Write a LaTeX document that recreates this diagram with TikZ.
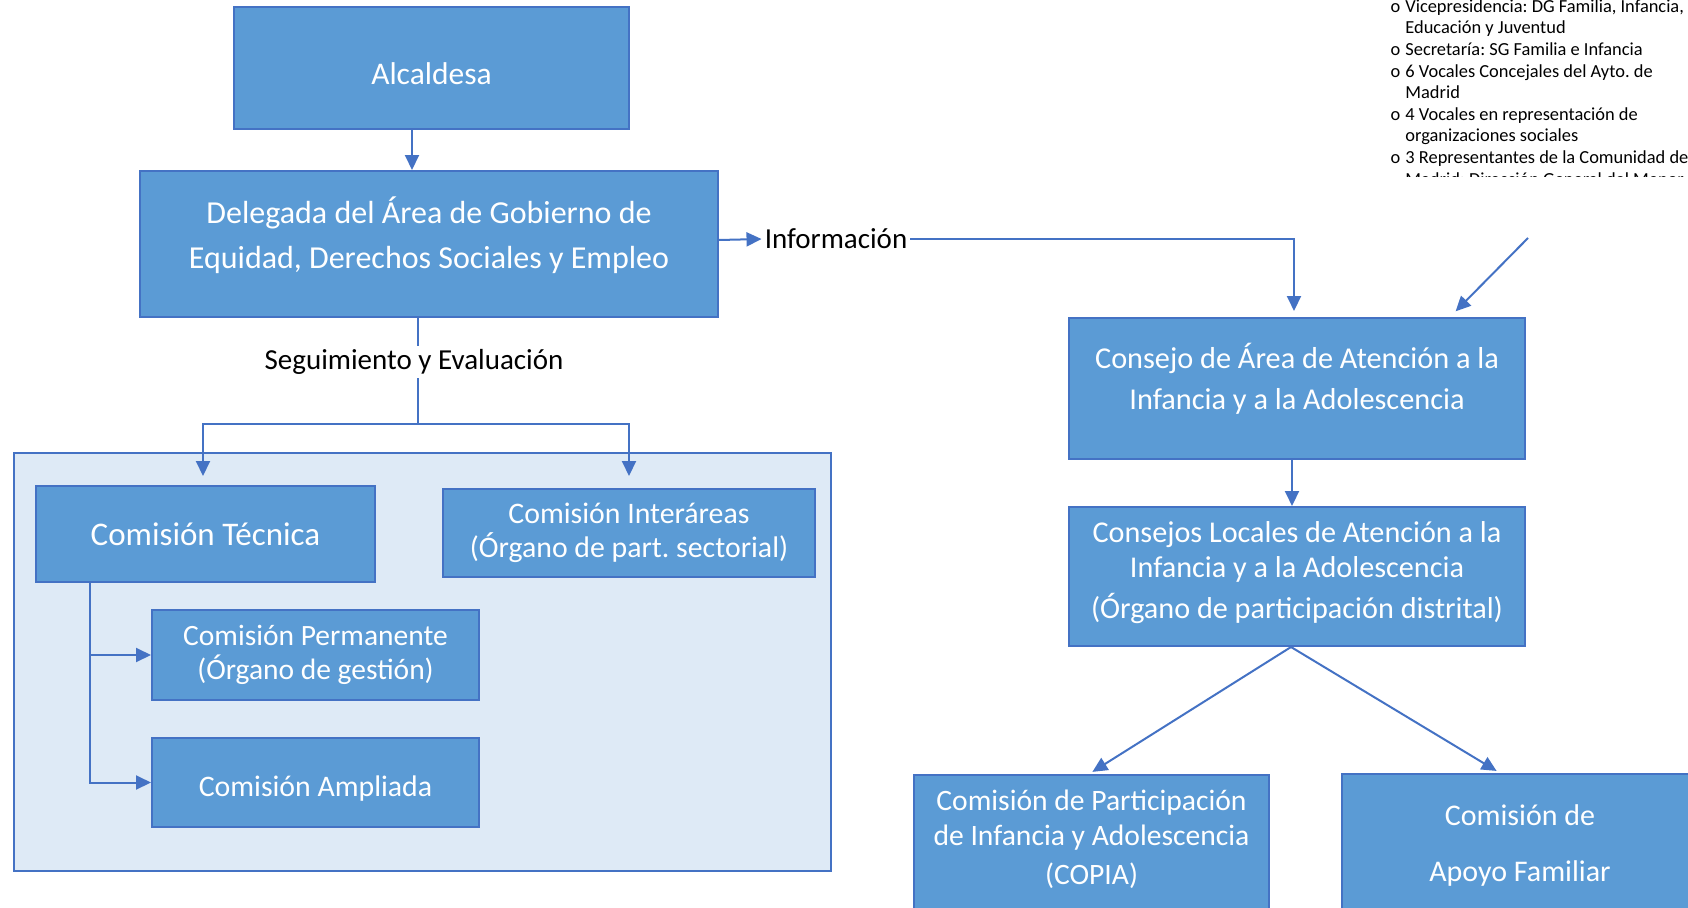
\documentclass[tikz,border=0pt]{standalone}
\usepackage{fontspec}
\setmainfont{Carlito}
\usepackage{tikz}
\usetikzlibrary{arrows.meta,positioning}
\definecolor{boxfill}{HTML}{5B9BD5}
\definecolor{boxline}{HTML}{4472C4}
\definecolor{panelfill}{HTML}{DEEAF6}
\newcommand{\fsz}[2]{\fontsize{#1}{#2}\selectfont}
\frenchspacing
\tikzset{
    organ/.style={
           rectangle,
           fill=boxfill,
           draw=boxline, line width=2pt,
           text=white,
           align=center,
           inner sep=2pt
           },
    orgtext/.style={
           text=white,
           align=center,
           inner sep=0pt
           },
    tag/.style={
           fill=white,
           inner sep=3pt,
           font=\fsz{29}{34}
           },
    link/.style={
           draw=boxline, line width=2pt,
           -{Triangle[length=15pt,width=14pt]}
           },
}

\begin{document}
\begin{tikzpicture}[x=1pt,y=-1pt]
\clip (0,0) rectangle (1688,907);

% panel behind the commissions
\draw[fill=panelfill, draw=boxline, line width=2pt] (14,453) rectangle (831,871);

\node[organ, minimum width=395pt, minimum height=121pt] (ALC) at (431.5,68) {};
\node[orgtext, font=\fsz{31.5}{38}] (ALCtxt) at (431.5,73.5) {Alcaldesa};

\node[organ, minimum width=578pt, minimum height=146pt] (DELEG) at (429,244) {};
\node[orgtext, font=\fsz{32}{45}] (DELEGtxt) at (429,235)
    {Delegada del Área de Gobierno de\\
     Equidad, Derechos Sociales y Empleo};

\node[tag, fill=none] (INFO) at (836,239) {Información};
\node[tag] (SEG) at (414,362) {Seguimiento y Evaluación};

\node[organ, minimum width=339pt, minimum height=96pt, font=\fsz{33}{40}] (TEC) at (205.5,534)
    {Comisión Técnica};

\node[organ, minimum width=372pt, minimum height=88pt, font=\fsz{29.8}{34.5}] (INTER) at (629,533)
    {Comisión Interáreas\\
     (Órgano de part. sectorial)};

\node[organ, minimum width=327pt, minimum height=90pt, font=\fsz{29.5}{34.5}] (PERM) at (315.5,655)
    {Comisión Permanente\\
     (Órgano de gestión)};

\node[organ, minimum width=327pt, minimum height=89pt,
      below of=PERM, node distance=127.5pt, anchor=center] (AMPL) {};
\node[orgtext, font=\fsz{29.8}{36}] (AMPLtxt) at ([yshift=-6.5pt]AMPL) {Comisión Ampliada};

\node[organ, minimum width=456pt, minimum height=141pt] (AREA) at (1297,388.5) {};
\node[orgtext, font=\fsz{30.3}{41}] (AREAtxt) at (1297,378.5)
    {Consejo de Área de Atención a la\\
     Infancia y a la Adolescencia};

\node[organ, minimum width=456pt, minimum height=139pt,
      below of=AREA, node distance=188pt, anchor=center] (LOCAL) {};
\node[orgtext, font=\fsz{30.2}{34.5}] (LOCALtxt) at ([yshift=4pt]LOCAL)
    {Consejos Locales de Atención a la\\
     Infancia y a la Adolescencia\\[6.5pt]
     (Órgano de participación distrital)};

% bottom boxes run off the page
\node[organ, minimum width=355pt, minimum height=140pt] (COPIA) at (1091.5,845) {};
\node[orgtext, font=\fsz{29.6}{34.5}] (COPIAtxt) at (1091.5,839.5)
    {Comisión de Participación\\
     de Infancia y Adolescencia\\[4.5pt]
     (COPIA)};

\node[organ, minimum width=356pt, minimum height=142pt, font=\fsz{30}{56}] (APOYO) at (1520,845)
    {Comisión de\\
     Apoyo Familiar};

% member list, cut at the top and bottom
\begin{scope}
\clip (1370,0) rectangle (1688,176);
\node[anchor=north west, inner sep=0pt, font=\fsz{18.4}{21.6}] (LIST) at (1390.5,-3)
    {\begin{tabular}{@{}l@{\hspace{5pt}}l@{}}
      o & Vicepresidencia: DG Familia, Infancia,\\
        & Educación y Juventud\\
      o & Secretaría: SG Familia e Infancia\\
      o & 6 Vocales Concejales del Ayto. de\\
        & Madrid\\
      o & 4 Vocales en representación de\\
        & organizaciones sociales\\
      o & 3 Representantes de la Comunidad de\\
        & Madrid: Dirección General del Menor
     \end{tabular}};
\end{scope}

\coordinate (FEED) at (1528,238);

% connectors
\draw[link] ([xshift=-19.5pt]ALC.south) -- ([xshift=-17pt]DELEG.north);
\draw[link] ([yshift=4pt]DELEG.east) -- (INFO.west);
\draw[link, shorten >=6pt] (INFO.east) -| ([xshift=-3pt]AREA.north);
\draw[link, shorten >=8pt] (FEED) -- ([xshift=153pt]AREA.north);
\draw[link] ([xshift=-5pt]AREA.south) -- ([xshift=-5pt]LOCAL.north);
\draw[link, shorten >=4pt] ([xshift=-6pt]LOCAL.south) -- ([xshift=-2.5pt]COPIA.north);
\draw[link, shorten >=4pt] ([xshift=-6pt]LOCAL.south) -- ([xshift=-20pt]APOYO.north);

\draw[boxline, line width=2pt] ([xshift=-11pt]DELEG.south) -- ++(0,106) coordinate (FORK);
\draw[link, shorten >=9pt] (FORK) -| ([xshift=-2.5pt]TEC.north);
\draw[link, shorten >=12pt] (FORK) -| (INTER.north);
\node[tag] at (SEG) {Seguimiento y Evaluación};

\draw[link] ([xshift=-115.5pt]TEC.south) |- (PERM.west);
\draw[link] ([xshift=-115.5pt]TEC.south) |- (AMPL.west);

\end{tikzpicture}
\end{document}
